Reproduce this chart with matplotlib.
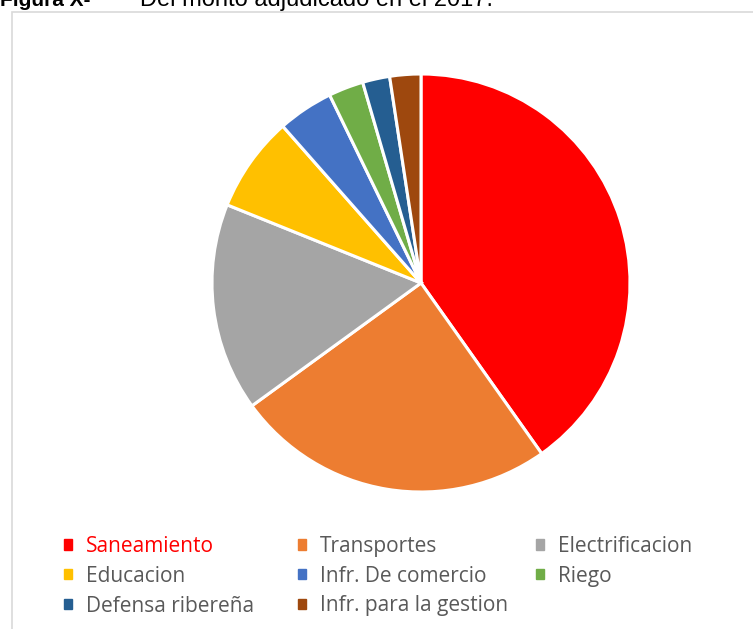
import matplotlib.pyplot as plt
from matplotlib.patches import Patch, Rectangle

categories = ['Saneamiento', 'Transportes', 'Electrificacion', 'Educacion',
              'Infr. De comercio', 'Riego', 'Defensa ribereña',
              'Infr. para la gestion']
shares = [40.2, 24.8, 16.1, 7.4, 4.3, 2.7, 2.1, 2.4]
colors = ['#FF0000', '#ED7D31', '#A5A5A5', '#FFC000',
          '#4472C4', '#70AD47', '#255E91', '#9E480E']

W, H = 753, 629
fig = plt.figure(figsize=(W / 100, H / 100), dpi=100)

# chart frame (only left/top visible in the crop)
fig.patches.append(Rectangle((12 / W, -0.01), 1.0, 1 - 12 / H + 0.01,
                             transform=fig.transFigure, fill=False,
                             edgecolor='#D9D9D9', linewidth=1.2))

# clipped caption at the very top
fig.text(0.0, 1 - 6 / H, 'Figura X-', fontsize=15, fontweight='bold',
         family='Liberation Sans', va='baseline', ha='left')
fig.text(140 / W, 1 - 6 / H, 'Del monto adjudicado en el 2017.', fontsize=17,
         family='Liberation Sans', va='baseline', ha='left')

cx, cy, r = 421, 283, 209
ax = fig.add_axes([(cx - r) / W, 1 - (cy + r) / H, 2 * r / W, 2 * r / H])
ax.pie(shares, colors=colors, startangle=90, counterclock=False,
       wedgeprops=dict(edgecolor='white', linewidth=2.2))
ax.set_xlim(-1.0, 1.0)
ax.set_ylim(-1.0, 1.0)
ax.set_aspect('equal')

# legend laid out as three columns, row-wise like the original
col_x = [64, 298, 536]
for c in range(3):
    idx = list(range(c, len(categories), 3))
    leg = fig.legend([Patch(facecolor=colors[i], edgecolor=colors[i]) for i in idx],
                     [categories[i] for i in idx],
                     loc='upper left', bbox_to_anchor=(col_x[c] / W, 1 - 536 / H),
                     frameon=False, handlelength=0.37, handleheight=0.37,
                     handletextpad=0.68, labelspacing=0.42, borderpad=0,
                     borderaxespad=0, prop={'family': 'Open Sans', 'size': 15})
    for t in leg.get_texts():
        t.set_color('#595959')
        if t.get_text() == 'Saneamiento':
            t.set_color('#FF0000')

fig.savefig('out.png', dpi=100)
